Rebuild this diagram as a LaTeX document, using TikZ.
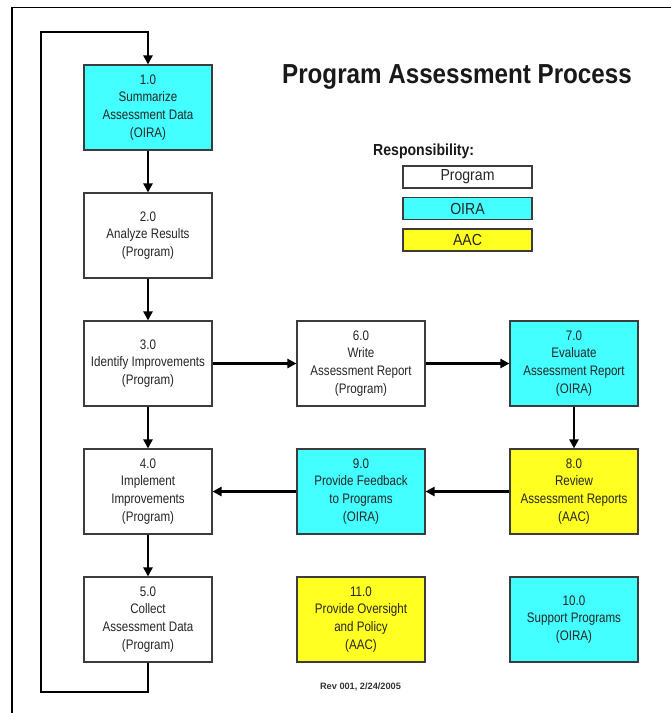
\documentclass[tikz,border=0pt]{standalone}
\usepackage{fontspec}
\setmainfont{Liberation Sans}
\newfontfamily\bodyf[FakeStretch=0.84]{Liberation Sans}
\newfontfamily\legf[FakeStretch=0.88]{Liberation Sans}
\newfontfamily\titlef[FakeStretch=0.88]{Liberation Sans}
\usetikzlibrary{arrows.meta}
\definecolor{oira}{RGB}{68,255,255}
\definecolor{aac}{RGB}{255,255,34}
\definecolor{edge}{RGB}{60,60,60}
\begin{document}
\begin{tikzpicture}[x=1pt,y=-1pt,
  procbox/.style={draw=edge, line width=1.1pt, minimum width=128pt, minimum height=85pt,
    align=center, inner sep=0pt, font=\bodyf\fontsize{13.8}{17.8}\selectfont, text=black!85},
  prog/.style={procbox, fill=white},
  oirab/.style={procbox, fill=oira},
  aacb/.style={procbox, fill=aac},
  legbox/.style={draw=edge, line width=1.1pt, minimum width=129pt, minimum height=22pt,
    inner sep=0pt, font=\legf\fontsize{16}{17}\selectfont, text=black!85},
  flow/.style={line width=2.6pt, -{Triangle[length=9pt,width=9pt]}},
  frame/.style={line width=1.3pt}
]
\useasboundingbox (0,0) rectangle (671,713);
\fill[white] (0,0) rectangle (671,713);
% frame
\coordinate (ftl) at (12,7.5);
\coordinate (ftr) at (671,7.5);
\coordinate (fbl) at (12,713);
\draw[frame] (fbl) -- (ftl) -- (ftr);

% title
\node[anchor=base, font=\titlef\bfseries\fontsize{27.5}{30}\selectfont, text=black!90, inner sep=0pt] (title) at (457,83) {Program Assessment Process};
\node[anchor=base west, font=\legf\bfseries\fontsize{16}{18}\selectfont, text=black!90, inner sep=0pt] (resp) at (373,155) {Responsibility:};

% legend
\node[legbox, fill=white] (lprog) at (467.5,177) {Program};
\node[legbox, fill=oira] (loira) at (467.5,208.5) {OIRA};
\node[legbox, fill=aac] (laac) at (467.5,240) {AAC};

% process boxes
\node[oirab] (n1) at (148,107.5) {1.0\\Summarize\\Assessment Data\\(OIRA)};
\node[prog] (n2) at (148,235.5) {2.0\\Analyze Results\\(Program)};
\node[prog] (n3) at (148,363.5) {3.0\\Identify Improvements\\(Program)};
\node[prog] (n4) at (148,491.5) {4.0\\Implement\\Improvements\\(Program)};
\node[prog] (n5) at (148,619.5) {5.0\\Collect\\Assessment Data\\(Program)};
\node[prog] (n6) at (361,363.5) {6.0\\Write\\Assessment Report\\(Program)};
\node[oirab] (n7) at (574,363.5) {7.0\\Evaluate\\Assessment Report\\(OIRA)};
\node[aacb] (n8) at (574,491.5) {8.0\\Review\\Assessment Reports\\(AAC)};
\node[oirab] (n9) at (361,491.5) {9.0\\Provide Feedback\\to Programs\\(OIRA)};
\node[aacb] (n11) at (361,619.5) {11.0\\Provide Oversight\\and Policy\\(AAC)};
\node[oirab] (n10) at (574,619.5) {10.0\\Support Programs\\(OIRA)};

% footer
\node[font=\bfseries\fontsize{9.2}{10}\selectfont, text=black!80, inner sep=0pt] (rev) at (360.5,687) {Rev 001, 2/24/2005};

% connectors
\draw[flow] (n1) -- (n2);
\draw[flow] (n2) -- (n3);
\draw[flow] (n3) -- (n4);
\draw[flow] (n4) -- (n5);
\draw[flow] (n3) -- (n6);
\draw[flow] (n6) -- (n7);
\draw[flow] (n7) -- (n8);
\draw[flow] (n8) -- (n9);
\draw[flow] (n9) -- (n4);
\coordinate (lb) at (41,692);
\coordinate (lt) at (41,32);
\draw[flow] (n5.south) |- (lb) -- (lt) -| (n1.north);
\end{tikzpicture}
\end{document}
